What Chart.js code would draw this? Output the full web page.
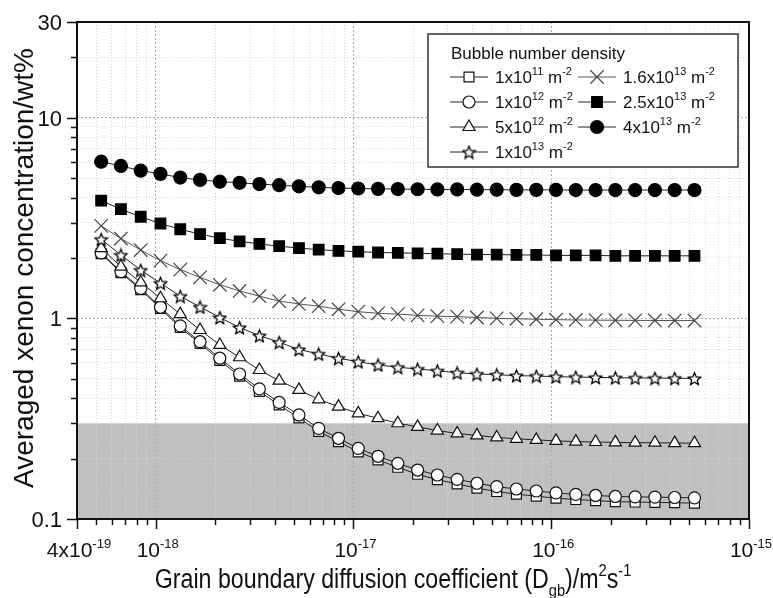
<!DOCTYPE html>
<html>
<head>
<meta charset="utf-8">
<script src="https://cdn.jsdelivr.net/npm/chart.js@4.4.0/dist/chart.umd.min.js"></script>
<style>
    html, body { margin: 0; padding: 0; background: #fff; }
    canvas { display: block; }
</style>
</head>
<body>
<canvas id="chartXenon" width="773" height="598"></canvas>
<script>
// grain boundary diffusion coefficient (m2/s), 0.1 decade apart
const diffCoeff = [5.3e-19, 6.67e-19, 8.4e-19, 1.057e-18, 1.331e-18, 1.676e-18, 2.11e-18, 2.656e-18, 3.344e-18, 4.21e-18,
    5.3e-18, 6.67e-18, 8.4e-18, 1.057e-17, 1.331e-17, 1.676e-17, 2.11e-17, 2.656e-17, 3.344e-17, 4.21e-17,
    5.3e-17, 6.67e-17, 8.4e-17, 1.057e-16, 1.331e-16, 1.676e-16, 2.11e-16, 2.656e-16, 3.344e-16, 4.21e-16, 5.3e-16];

// averaged xenon concentration (wt%) per bubble number density
const xe1e11 = [2.10, 1.69, 1.39, 1.12, 0.90, 0.75, 0.617, 0.515, 0.432, 0.370, 0.319, 0.273, 0.243, 0.216, 0.197, 0.181,
    0.167, 0.157, 0.1495, 0.1426, 0.137, 0.133, 0.130, 0.127, 0.125, 0.1235, 0.122, 0.1215, 0.121, 0.1205, 0.120];
const xe1e12 = [2.12, 1.71, 1.41, 1.136, 0.917, 0.765, 0.633, 0.528, 0.445, 0.381, 0.330, 0.283, 0.2525, 0.225, 0.2054, 0.1895,
    0.1754, 0.1657, 0.1577, 0.1507, 0.1449, 0.1411, 0.1379, 0.1349, 0.1326, 0.131, 0.1295, 0.129, 0.1285, 0.128, 0.1275];
const xe5e12 = [2.24, 1.81, 1.51, 1.26, 1.05, 0.875, 0.737, 0.64, 0.553, 0.489, 0.44, 0.395, 0.363, 0.336, 0.318, 0.300,
    0.288, 0.276, 0.267, 0.261, 0.255, 0.251, 0.248, 0.245, 0.243, 0.242, 0.241, 0.240, 0.240, 0.239, 0.239];
const xe1e13 = [2.48, 2.07, 1.74, 1.50, 1.29, 1.14, 1.01, 0.90, 0.82, 0.76, 0.70, 0.665, 0.633, 0.608, 0.586, 0.571,
    0.559, 0.548, 0.536, 0.528, 0.524, 0.518, 0.516, 0.512, 0.510, 0.508, 0.506, 0.505, 0.504, 0.503, 0.502];
const xe16e13 = [2.89, 2.50, 2.19, 1.94, 1.75, 1.60, 1.47, 1.37, 1.29, 1.22, 1.18, 1.15, 1.11, 1.08, 1.06, 1.05,
    1.035, 1.025, 1.02, 1.01, 1.0, 0.995, 0.99, 0.985, 0.982, 0.98, 0.978, 0.977, 0.976, 0.975, 0.975];
const xe25e13 = [3.86, 3.50, 3.21, 2.97, 2.78, 2.63, 2.51, 2.42, 2.35, 2.29, 2.24, 2.20, 2.17, 2.15, 2.13, 2.12,
    2.11, 2.10, 2.09, 2.08, 2.08, 2.07, 2.07, 2.06, 2.06, 2.06, 2.05, 2.05, 2.05, 2.05, 2.05];
const xe4e13 = [6.04, 5.75, 5.45, 5.25, 5.03, 4.90, 4.80, 4.74, 4.67, 4.61, 4.55, 4.50, 4.46, 4.44, 4.42, 4.41,
    4.40, 4.39, 4.39, 4.38, 4.38, 4.37, 4.37, 4.37, 4.36, 4.36, 4.36, 4.36, 4.36, 4.36, 4.36];

// legend labels: mantissa x 10^exp m^-2
const densityMantissa = ['1', '1', '5', '1', '1.6', '2.5', '4'];
const densityExp = ['11', '12', '12', '13', '13', '13', '13'];

// axes
const xMin = 4e-19, xMax = 1e-15;
const yMin = 0.1, yMax = 30;
const xMajorTicks = [4e-19, 1e-18, 1e-17, 1e-16, 1e-15];
const xTickMantissa = ['4x', '', '', '', ''];
const xTickExp = ['-19', '-18', '-17', '-16', '-15'];
const yMajorTicks = [0.1, 1, 10, 30];
const yTickLabels = ['0.1', '1', '10', '30'];
const shadedRange = [0.1, 0.3];

const FONT = '"Liberation Sans", Arial, sans-serif';

function logTicks(min, max) {
    const out = [];
    for (let e = Math.floor(Math.log10(min)); e <= Math.ceil(Math.log10(max)); e++) {
        for (let m = 1; m < 10; m++) {
            const v = +(m + 'e' + e);
            if (v >= min * 0.999 && v <= max * 1.001) out.push(v);
        }
    }
    return out;
}

function makeStar(size) {
    const c = document.createElement('canvas');
    c.width = c.height = size;
    const g = c.getContext('2d');
    const cx = size / 2, cy = size / 2 + 0.8, ro = size / 2 - 1, ri = ro * 0.45;
    g.beginPath();
    for (let k = 0; k < 10; k++) {
        const r = k % 2 ? ri : ro;
        const a = -Math.PI / 2 + k * Math.PI / 5;
        g.lineTo(cx + r * Math.cos(a), cy + r * Math.sin(a));
    }
    g.closePath();
    g.fillStyle = '#fff';
    g.fill();
    g.strokeStyle = '#000';
    g.lineWidth = 1.3;
    g.stroke();
    return c;
}
const starImg = makeStar(15);

// rich text: parts are [text, kind] with kind 0 normal, 1 superscript, -1 subscript
function partFont(size, kind) {
    return (kind ? Math.round(size * 0.62) : size) + 'px ' + FONT;
}
function partShift(size, kind) {
    return kind === 1 ? -size * 0.45 : kind === -1 ? size * 0.3 : 0;
}
function drawRich(ctx, parts, x, y, size, align, hscale) {
    hscale = hscale || 1;
    let w = 0;
    parts.forEach(([t, k]) => { ctx.font = partFont(size, k); w += ctx.measureText(t).width; });
    let cx = align === 'center' ? -w / 2 : align === 'right' ? -w : 0;
    ctx.save();
    ctx.translate(x, y);
    ctx.scale(hscale, 1);
    ctx.textAlign = 'left';
    ctx.textBaseline = 'alphabetic';
    ctx.fillStyle = '#111';
    parts.forEach(([t, k]) => {
        ctx.font = partFont(size, k);
        ctx.fillText(t, cx, partShift(size, k));
        cx += ctx.measureText(t).width;
    });
    ctx.restore();
}

const seriesValues = [xe1e11, xe1e12, xe5e12, xe1e13, xe16e13, xe25e13, xe4e13];
const seriesStyle = [
    { pointStyle: 'rect', radius: 7, fill: '#fff', border: '#111', line: '#222' },
    { pointStyle: 'circle', radius: 6, fill: '#fff', border: '#111', line: '#222' },
    { pointStyle: 'triangle', radius: 7, fill: '#fff', border: '#111', line: '#222' },
    { pointStyle: starImg, radius: 7, fill: '#fff', border: '#111', line: '#222' },
    { pointStyle: 'crossRot', radius: 9.5, fill: '#fff', border: '#444', line: '#555' },
    { pointStyle: 'rect', radius: 7.5, fill: '#000', border: '#000', line: '#222' },
    { pointStyle: 'circle', radius: 6.5, fill: '#000', border: '#000', line: '#222' }
];

const datasets = seriesValues.map((vals, i) => ({
    label: densityMantissa[i] + 'x10^' + densityExp[i],
    data: diffCoeff.map((x, j) => ({ x: x, y: vals[j] })),
    borderColor: seriesStyle[i].line,
    borderWidth: 1,
    pointStyle: seriesStyle[i].pointStyle,
    pointRadius: seriesStyle[i].radius,
    pointBackgroundColor: seriesStyle[i].fill,
    pointBorderColor: seriesStyle[i].border,
    pointBorderWidth: 1.2,
    tension: 0,
    fill: false,
    order: 7 - i
}));

const xAllTicks = logTicks(xMin, xMax);
const yAllTicks = logTicks(yMin, yMax);

const gridColor = c => (c.tick && c.tick.major ? '#a9a9a9' : '#d6d6d6');
const gridDash = c => (c.tick && c.tick.major ? [2, 2] : [1, 2]);

const framePlugin = {
    id: 'frame',
    beforeDraw(chart) {
        const { ctx, chartArea: a, scales: { y } } = chart;
        ctx.save();
        ctx.fillStyle = '#fff';
        ctx.fillRect(0, 0, chart.width, chart.height);
        // shaded band
        const yTop = y.getPixelForValue(shadedRange[1]);
        const yBot = y.getPixelForValue(shadedRange[0]);
        ctx.fillStyle = '#c0c0c0';
        ctx.fillRect(a.left, yTop, a.right - a.left, yBot - yTop);
        ctx.restore();
    },
    afterDraw(chart) {
        const { ctx, chartArea: a, scales: { x, y } } = chart;
        ctx.save();
        // axis box
        ctx.strokeStyle = '#111';
        ctx.lineWidth = 2;
        ctx.strokeRect(a.left, a.top, a.right - a.left, a.bottom - a.top);
        // tick marks
        ctx.lineWidth = 1.5;
        ctx.beginPath();
        xAllTicks.forEach(v => {
            const px = Math.round(x.getPixelForValue(v)) + 0.5;
            const len = xMajorTicks.includes(v) ? 10 : 6;
            ctx.moveTo(px, a.bottom);
            ctx.lineTo(px, a.bottom + len);
        });
        yAllTicks.forEach(v => {
            const py = Math.round(y.getPixelForValue(v)) + 0.5;
            const len = yMajorTicks.includes(v) ? 10 : 6;
            ctx.moveTo(a.left, py);
            ctx.lineTo(a.left - len, py);
        });
        ctx.stroke();

        // tick labels
        xMajorTicks.forEach((v, i) => {
            const parts = [[xTickMantissa[i] + '10', 0], [xTickExp[i], 1]];
            drawRich(ctx, parts, x.getPixelForValue(v) + 2, a.bottom + 38, 21, 'center');
        });
        yMajorTicks.forEach((v, i) => {
            drawRich(ctx, [[yTickLabels[i], 0]], a.left - 15, y.getPixelForValue(v) + 8, 22, 'right');
        });

        // axis titles
        drawRich(ctx, [['Grain boundary diffusion coefficient (D', 0], ['gb', -1], [')/m', 0], ['2', 1], ['s', 0], ['-1', 1]],
            393, 588, 27, 'center', 0.86);
        ctx.save();
        ctx.translate(33, 268);
        ctx.rotate(-Math.PI / 2);
        drawRich(ctx, [['Averaged xenon concentration/wt%', 0]], 0, 0, 28, 'center');
        ctx.restore();

        // legend
        const lx = 428, ly = 34, lw = 310, lh = 133;
        ctx.fillStyle = '#fff';
        ctx.fillRect(lx, ly, lw, lh);
        ctx.strokeStyle = '#333';
        ctx.lineWidth = 1.5;
        ctx.strokeRect(lx, ly, lw, lh);
        drawRich(ctx, [['Bubble number density', 0]], 451, 59, 17, 'left');
        const rowY = [77, 102, 127, 152, 77, 102, 127];
        const colX = [450, 450, 450, 450, 578, 578, 578];
        datasets.forEach((ds, i) => {
            const st = seriesStyle[i];
            const x0 = colX[i], yy = rowY[i];
            ctx.strokeStyle = st.line;
            ctx.lineWidth = 1;
            ctx.beginPath();
            ctx.moveTo(x0, yy);
            ctx.lineTo(x0 + 38, yy);
            ctx.stroke();
            if (st.pointStyle instanceof HTMLCanvasElement) {
                ctx.drawImage(st.pointStyle, x0 + 19 - st.pointStyle.width / 2, yy - st.pointStyle.height / 2);
            } else {
                ctx.fillStyle = st.fill;
                ctx.strokeStyle = st.border;
                ctx.lineWidth = 1.2;
                Chart.helpers.drawPoint(ctx, { pointStyle: st.pointStyle, radius: st.radius, rotation: 0, borderWidth: 1.2 }, x0 + 19, yy);
            }
            drawRich(ctx, [[densityMantissa[i] + 'x10', 0], [densityExp[i], 1], [' m', 0], ['-2', 1]],
                x0 + 45, yy + 6, 17, 'left');
        });
        ctx.restore();
    }
};

new Chart(document.getElementById('chartXenon'), {
    type: 'line',
    data: { datasets: datasets },
    options: {
        responsive: false,
        animation: false,
        devicePixelRatio: 1,
        events: [],
        layout: { padding: { left: 77, top: 22, right: 24, bottom: 79 } },
        plugins: { legend: { display: false }, tooltip: { enabled: false } },
        scales: {
            x: {
                type: 'logarithmic',
                min: xMin,
                max: xMax,
                afterBuildTicks: scale => { scale.ticks = xAllTicks.map(v => ({ value: v, major: xMajorTicks.includes(v) })); },
                ticks: { display: false, autoSkip: false },
                grid: { drawTicks: false, color: gridColor, lineWidth: 1 },
                border: { display: false, dash: gridDash }
            },
            y: {
                type: 'logarithmic',
                min: yMin,
                max: yMax,
                afterBuildTicks: scale => { scale.ticks = yAllTicks.map(v => ({ value: v, major: yMajorTicks.includes(v) })); },
                ticks: { display: false, autoSkip: false },
                grid: { drawTicks: false, color: gridColor, lineWidth: 1 },
                border: { display: false, dash: gridDash }
            }
        }
    },
    plugins: [framePlugin]
});
</script>
</body>
</html>
